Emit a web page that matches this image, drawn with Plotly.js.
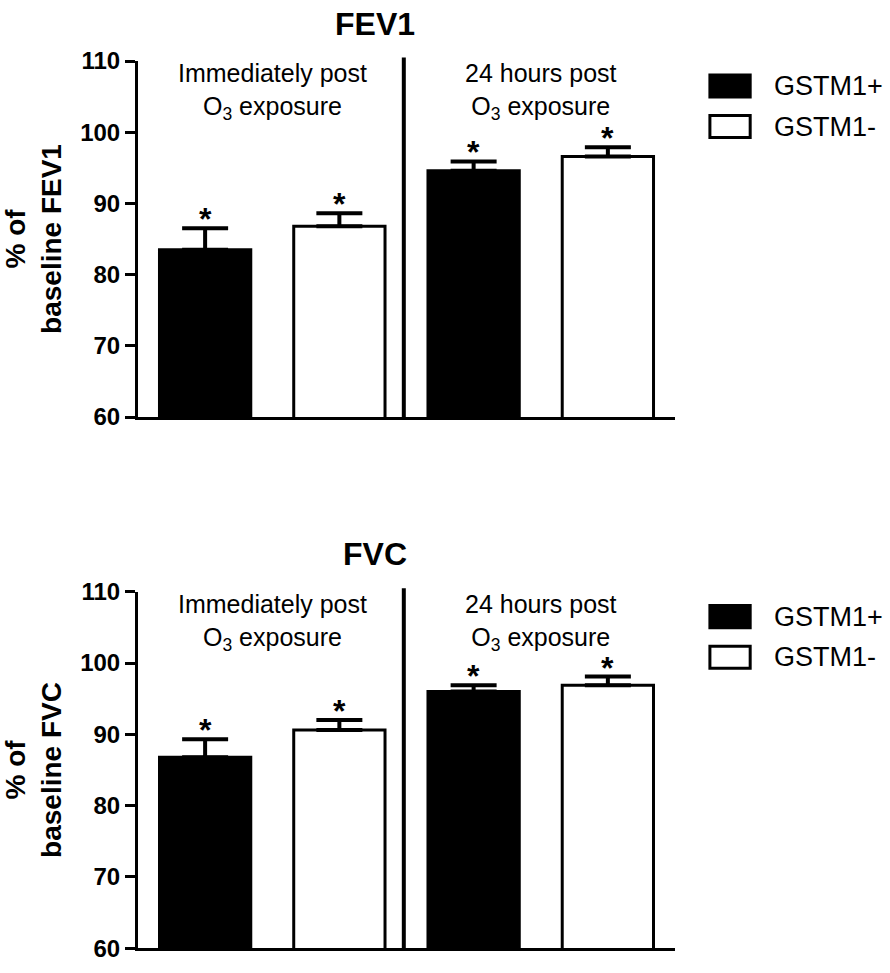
<!DOCTYPE html>
<html>
<head>
<meta charset="utf-8">
<script src="https://cdn.plot.ly/plotly-3.0.1.min.js"></script>
<style>html,body{margin:0;padding:0;background:#fff;}#chart{width:890px;height:973px;}</style>
</head>
<body>
<div id="chart"></div>
<script>
// ---- data ----
const timepoints = ["Immediately post", "24 hours post"];
const groupLabels = ["Immediately post<br>O<sub>3</sub> exposure", "24 hours post<br>O<sub>3</sub> exposure"];
const seriesNames = ["GSTM1+", "GSTM1-"];
const panelTitles = ["FEV1", "FVC"];
const yTitles = ["% of<br>baseline FEV1", "% of<br>baseline FVC"];
const sigMarks = ["*", "*"];

const fev1Pos = [83.5, 94.6];
const fev1PosErr = [3.0, 1.3];
const fev1Neg = [86.8, 96.6];
const fev1NegErr = [1.8, 1.3];

const fvcPos = [86.8, 96.0];
const fvcPosErr = [2.5, 0.9];
const fvcNeg = [90.6, 96.9];
const fvcNegErr = [1.4, 1.2];

const yTicks = [60, 70, 80, 90, 100, 110];
// ---------------

const FONT = "Liberation Sans, Arial, sans-serif";
const fills = ["#000000", "#ffffff"];
const BARGAP = 0;
const BARGROUPGAP = 0.32;

const panels = [
  {xa: "x", ya: "y", vals: [fev1Pos, fev1Neg], errs: [fev1PosErr, fev1NegErr]},
  {xa: "x2", ya: "y2", vals: [fvcPos, fvcNeg], errs: [fvcPosErr, fvcNegErr]}
];

const traces = [];
const annotations = [];
const slot = (1 - BARGAP) / seriesNames.length;
panels.forEach((p, pi) => {
  p.vals.forEach((v, si) => {
    traces.push({
      type: "bar", x: timepoints, y: v, name: seriesNames[si],
      xaxis: p.xa, yaxis: p.ya, showlegend: false,
      offsetgroup: String(si),
      marker: {color: fills[si], line: {color: "#000", width: 3}},
      error_y: {type: "data", symmetric: false, array: p.errs[si],
                arrayminus: v.map(() => 0), color: "#000", thickness: 4, width: 23},
      hoverinfo: "skip"
    });
    // significance asterisks above each error bar
    v.forEach((val, ti) => {
      annotations.push({
        xref: p.xa, yref: p.ya,
        x: ti + (si - (seriesNames.length - 1) / 2) * slot,
        y: val + p.errs[si][ti], yshift: 9,
        xanchor: "center", yanchor: "middle", showarrow: false,
        text: sigMarks[si],
        font: {family: FONT, size: 32, color: "#000", weight: "bold"}
      });
    });
  });
});

const xDomain = [138 / 890, 675 / 890];
const yDomTop = [1 - 417 / 973, 1 - 61 / 973];
const yDomBot = [1 - 948.3 / 973, 1 - 591.7 / 973];

function yaxis(domain, title, anchor) {
  return {
    domain: domain, anchor: anchor, range: [60, 110], tickvals: yTicks,
    ticks: "outside", ticklen: 10, tickwidth: 3, tickcolor: "#000",
    showline: true, linewidth: 3, linecolor: "#000", showgrid: false, zeroline: false,
    tickfont: {family: FONT, size: 24, color: "#000", weight: "bold"},
    title: {text: title, font: {family: FONT, size: 28, color: "#000", weight: "bold"}, standoff: 11},
    fixedrange: true
  };
}
function xaxis(anchor) {
  return {
    domain: xDomain, anchor: anchor, type: "category", range: [-0.5, 1.5],
    showline: true, linewidth: 3, linecolor: "#000", ticks: "", showticklabels: false,
    showgrid: false, zeroline: false, fixedrange: true
  };
}

const shapes = [];
const titleY = [1 - 24 / 973, 1 - 554 / 973];
[["x", "y"], ["x2", "y2"]].forEach(([xa, ya], pi) => {
  // divider line between time points
  shapes.push({type: "line", xref: xa, yref: ya + " domain", x0: 0.49, x1: 0.49, y0: 0, y1: 1.01,
               line: {color: "#000", width: 4}});
  // legend swatches
  const legY = [[0.899, 0.961], [0.785, 0.847]];
  seriesNames.forEach((nm, si) => {
    shapes.push({type: "rect", xref: xa + " domain", yref: ya + " domain",
                 x0: 1.065, x1: 1.14, y0: legY[si][0], y1: legY[si][1],
                 fillcolor: fills[si], line: {color: "#000", width: 3}});
    annotations.push({xref: xa + " domain", yref: ya + " domain", x: 1.181,
                      y: (legY[si][0] + legY[si][1]) / 2, xanchor: "left", yanchor: "middle",
                      text: nm, showarrow: false,
                      font: {family: FONT, size: 27, color: "#000"}});
  });
  // group labels
  timepoints.forEach((tp, ti) => {
    annotations.push({xref: xa, yref: ya + " domain", x: tp, y: 0.915,
                      xanchor: "center", yanchor: "middle", text: groupLabels[ti], showarrow: false,
                      font: {family: FONT, size: 25, color: "#000"}});
  });
  // panel title
  annotations.push({xref: "paper", yref: "paper", x: 375 / 890, y: titleY[pi],
                    xanchor: "center", yanchor: "middle", text: panelTitles[pi], showarrow: false,
                    font: {family: FONT, size: 32, color: "#000", weight: "bold"}});
});

const layout = {
  width: 890, height: 973,
  margin: {l: 0, r: 0, t: 0, b: 0},
  paper_bgcolor: "#fff", plot_bgcolor: "#fff",
  barmode: "group", bargap: BARGAP, bargroupgap: BARGROUPGAP,
  showlegend: false,
  xaxis: xaxis("y"), yaxis: yaxis(yDomTop, yTitles[0], "x"),
  xaxis2: xaxis("y2"), yaxis2: yaxis(yDomBot, yTitles[1], "x2"),
  shapes: shapes, annotations: annotations,
  font: {family: FONT, color: "#000"}
};

Plotly.newPlot("chart", traces, layout, {displayModeBar: false, staticPlot: true});
</script>
</body>
</html>
